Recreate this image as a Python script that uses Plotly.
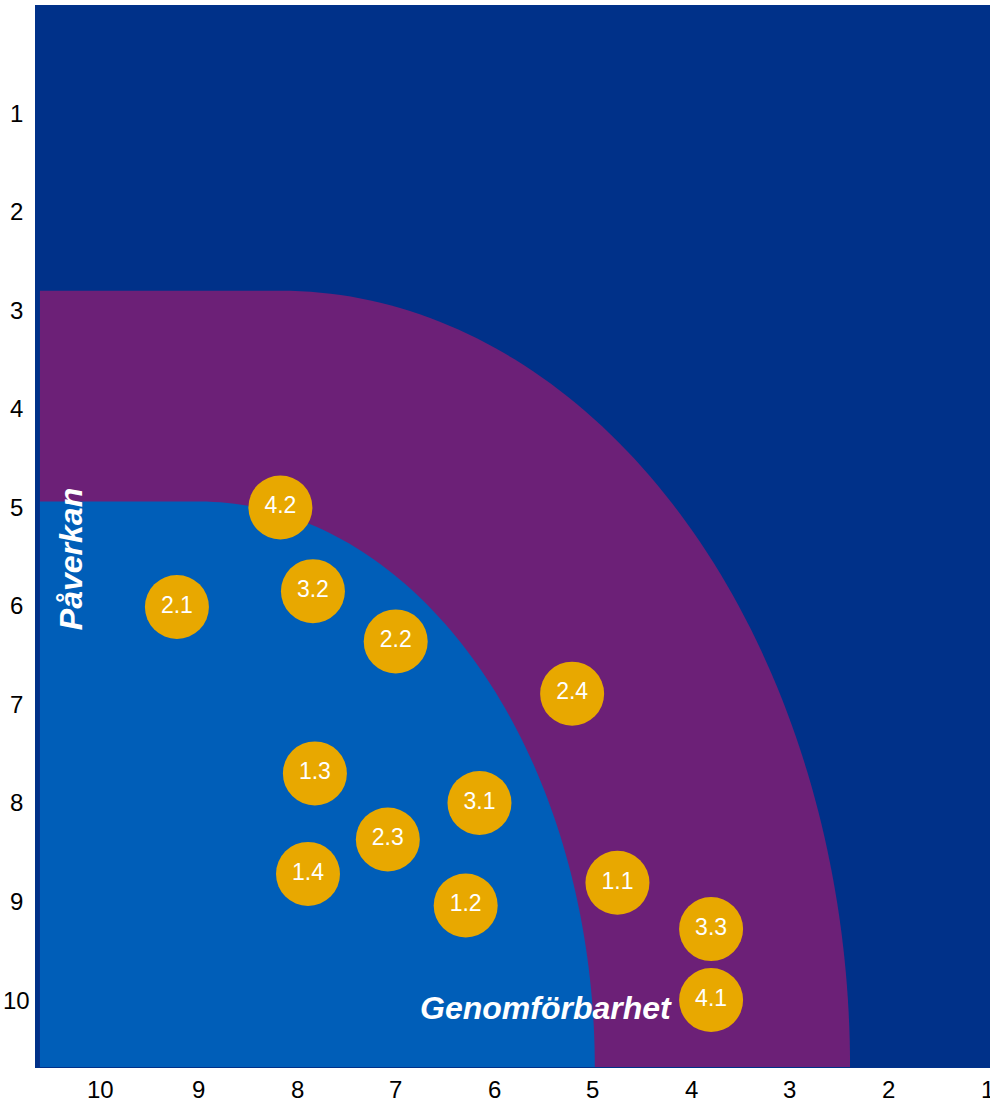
import numpy as np
import plotly.graph_objects as go

# Bubble data (x: Genomförbarhet, y: Påverkan)
labels = ["4.2", "2.1", "3.2", "2.2", "2.4", "1.3", "3.1", "2.3", "1.4", "1.1", "1.2", "3.3", "4.1"]
x_vals = [8.17, 9.22, 7.84, 7.00, 5.21, 7.82, 6.15, 7.08, 7.89, 4.75, 6.29, 3.80, 3.80]
y_vals = [5.00, 6.01, 5.85, 6.36, 6.89, 7.70, 8.00, 8.37, 8.72, 8.81, 9.04, 9.28, 10.00]

tick_vals = list(range(1, 11))
tick_text = [str(v) for v in tick_vals]

C_BG = "#003189"
C_PURPLE = "#6C2077"
C_BLUE = "#005EB8"
C_ORANGE = "#E8A800"

X_RANGE = [10.66, 0.97]
Y_RANGE = [10.69, -0.10]

FONT = "Liberation Sans, Arial"

def zone_path(left, top, corner_x, bottom, end_x, n=90):
    # flat top from left to corner_x, then quarter ellipse down to (end_x, bottom)
    rx = corner_x - end_x
    ry = bottom - top
    t = np.linspace(0, np.pi / 2, n)
    xs = corner_x - rx * np.sin(t)
    ys = bottom - ry * np.cos(t)
    pts = [(left, bottom), (left, top)] + list(zip(xs, ys)) + [(end_x, bottom)]
    return "M " + " L ".join(f"{a:.4f},{b:.4f}" for a, b in pts) + " Z"

fig = go.Figure()

fig.add_trace(go.Scatter(
    x=x_vals, y=y_vals, mode="markers+text", text=labels,
    marker=dict(size=64, color=C_ORANGE, line=dict(width=0)),
    textfont=dict(family=FONT, size=23, color="white"),
    textposition="middle center", hoverinfo="skip", showlegend=False,
))

shapes = [
    dict(type="path", xref="x", yref="y", layer="below",
         path=zone_path(10.61, 2.80, 8.17, 10.68, 2.39),
         fillcolor=C_PURPLE, line=dict(width=0)),
    dict(type="path", xref="x", yref="y", layer="below",
         path=zone_path(10.61, 4.94, 8.99, 10.68, 4.98),
         fillcolor=C_BLUE, line=dict(width=0)),
]

annotations = [
    dict(text="<b><i>Påverkan</i></b>", x=10.30, y=5.52, xref="x", yref="y",
         textangle=-90, showarrow=False,
         font=dict(family=FONT, size=32, color="white")),
    dict(text="<b><i>Genomförbarhet</i></b>", x=5.48, y=10.08, xref="x", yref="y",
         showarrow=False,
         font=dict(family=FONT, size=32, color="white")),
]
# axis tick labels (centred, as in the reference)
for v, t in zip(tick_vals, tick_text):
    annotations.append(dict(text=t, x=0, y=v, xref="paper", yref="y",
                            xanchor="center", yanchor="middle", xshift=-19,
                            showarrow=False, font=dict(family=FONT, size=24, color="black")))
    annotations.append(dict(text=t, x=v, y=0, xref="x", yref="paper",
                            xanchor="center", yanchor="middle", yshift=-21,
                            showarrow=False, font=dict(family=FONT, size=24, color="black")))

fig.update_layout(
    width=990, height=1101,
    margin=dict(l=35, r=0, t=5, b=33),
    paper_bgcolor="white", plot_bgcolor=C_BG,
    shapes=shapes,
    annotations=annotations,
    xaxis=dict(range=X_RANGE, tickvals=tick_vals, showgrid=False, zeroline=False,
               ticks="", automargin=False, showticklabels=False, showline=False),
    yaxis=dict(range=Y_RANGE, tickvals=tick_vals, showgrid=False, zeroline=False,
               ticks="", automargin=False, showticklabels=False, showline=False),
)

fig.write_html(
    "out.html",
    config={"displayModeBar": False},
    post_script="document.body.style.margin='0';document.body.style.overflow='hidden';",
)
